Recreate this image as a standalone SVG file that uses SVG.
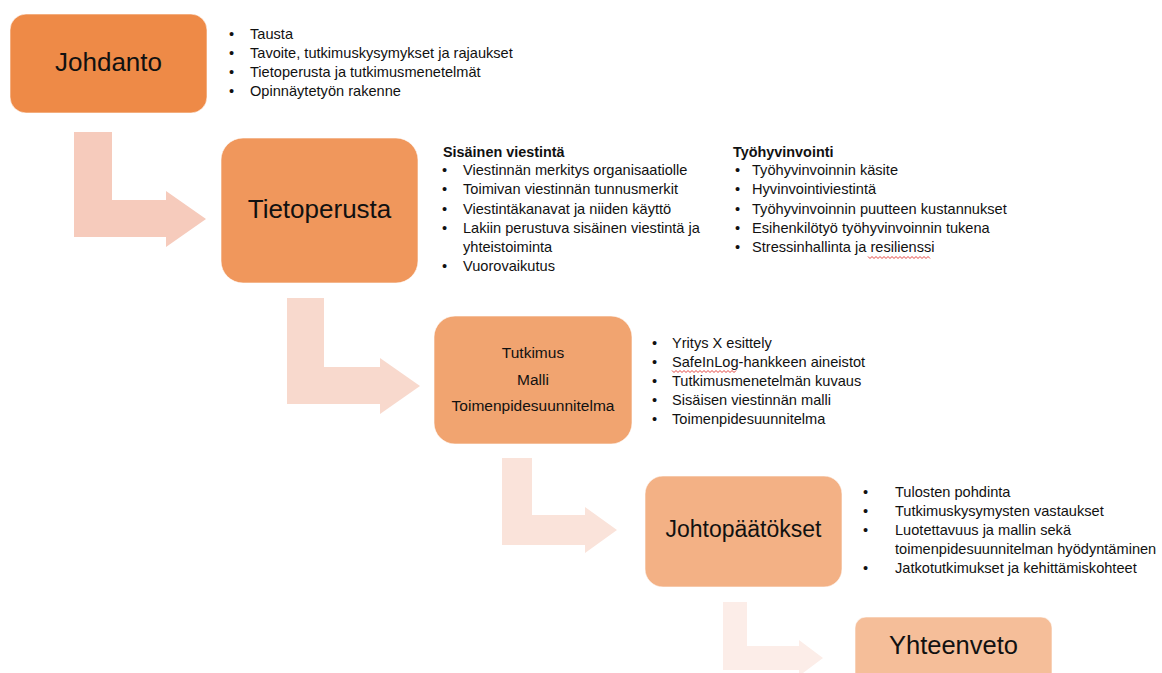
<svg xmlns="http://www.w3.org/2000/svg" width="1162" height="673" viewBox="0 0 1162 673">
<style>
  text { font-family: "Liberation Sans", Arial, sans-serif; fill: #111; }
  .box { stroke: #ffffff; stroke-opacity: 0.6; stroke-width: 1; }
  .title { text-anchor: middle; }
  .li { font-size: 14.6px; }
  .hd { font-size: 14.4px; font-weight: bold; }
  .wavy { fill: none; stroke: #e0302a; stroke-width: 0.9; }
</style>
<rect width="1162" height="673" fill="#ffffff"/>
<g id="connectors">
  <path d="M74,132 H112 V200 H166 V191 L206,219 L166,247 V237 H74 Z" fill="#F6CBBC"/>
  <path d="M287,298 H324 V367 H380 V358 L420,386 L380,414 V404 H287 Z" fill="#F8D9CD"/>
  <path d="M502,458 H532 V515 H585 V507 L617,530 L585,553 V545 H502 Z" fill="#FAE3DA"/>
  <path d="M723,602 H747 V646 H799 V640 L823,658 L799,676 V670 H723 Z" fill="#FCEDE8"/>
</g>
<g id="node-johdanto">
  <rect class="box" x="10" y="14" width="197" height="99" rx="16" fill="#EE8A47"/>
  <text class="title" x="108.5" y="71" font-size="26">Johdanto</text>
  <text class="li" x="229" y="38.5">•</text><text class="li" x="250" y="38.5">Tausta</text>
  <text class="li" x="229" y="57.5">•</text><text class="li" x="250" y="57.5">Tavoite, tutkimuskysymykset ja rajaukset</text>
  <text class="li" x="229" y="76.5">•</text><text class="li" x="250" y="76.5">Tietoperusta ja tutkimusmenetelmät</text>
  <text class="li" x="229" y="95.5">•</text><text class="li" x="250" y="95.5">Opinnäytetyön rakenne</text>
</g>
<g id="node-tietoperusta">
  <rect class="box" x="221" y="138" width="197" height="145" rx="22" fill="#F0975C"/>
  <text class="title" x="319.5" y="218" font-size="26">Tietoperusta</text>
  <text class="hd" x="443" y="156.5">Sisäinen viestintä</text>
  <text class="li" x="442" y="174.5">•</text><text class="li" x="463" y="174.5">Viestinnän merkitys organisaatiolle</text>
  <text class="li" x="442" y="193.5">•</text><text class="li" x="463" y="193.5">Toimivan viestinnän tunnusmerkit</text>
  <text class="li" x="442" y="213.5">•</text><text class="li" x="463" y="213.5">Viestintäkanavat ja niiden käyttö</text>
  <text class="li" x="442" y="232.5">•</text><text class="li" x="463" y="232.5">Lakiin perustuva sisäinen viestintä ja</text>
  <text class="li" x="463" y="251.5">yhteistoiminta</text>
  <text class="li" x="442" y="270.5">•</text><text class="li" x="463" y="270.5">Vuorovaikutus</text>
  <text class="hd" x="733" y="156.5">Työhyvinvointi</text>
  <text class="li" x="735" y="174.5">•</text><text class="li" x="752" y="174.5">Työhyvinvoinnin käsite</text>
  <text class="li" x="735" y="193.5">•</text><text class="li" x="752" y="193.5">Hyvinvointiviestintä</text>
  <text class="li" x="735" y="213.5">•</text><text class="li" x="752" y="213.5">Työhyvinvoinnin puutteen kustannukset</text>
  <text class="li" x="735" y="232.5">•</text><text class="li" x="752" y="232.5">Esihenkilötyö työhyvinvoinnin tukena</text>
  <text class="li" x="735" y="251.5">•</text><text class="li" x="752" y="251.5">Stressinhallinta ja resilienssi</text>
  <path class="wavy" d="M868,256.5 l2,2 l2,-2 l2,2 l2,-2 l2,2 l2,-2 l2,2 l2,-2 l2,2 l2,-2 l2,2 l2,-2 l2,2 l2,-2 l2,2 l2,-2 l2,2 l2,-2 l2,2 l2,-2 l2,2 l2,-2 l2,2 l2,-2 l2,2 l2,-2 l2,2 l2,-2 l2,2 l2,-2 l2,2"/>
</g>
<g id="node-tutkimus">
  <rect class="box" x="434" y="316" width="198" height="128" rx="21" fill="#F1A470"/>
  <text class="title" x="533" y="358" font-size="15.5">Tutkimus</text>
  <text class="title" x="533" y="384.5" font-size="15.5">Malli</text>
  <text class="title" x="533" y="411" font-size="15.5">Toimenpidesuunnitelma</text>
  <text class="li" x="652" y="347.5">•</text><text class="li" x="672" y="347.5">Yritys X esittely</text>
  <text class="li" x="652" y="366.5">•</text><text class="li" x="672" y="366.5">SafeInLog-hankkeen aineistot</text>
  <path class="wavy" d="M672,370.5 l2,2 l2,-2 l2,2 l2,-2 l2,2 l2,-2 l2,2 l2,-2 l2,2 l2,-2 l2,2 l2,-2 l2,2 l2,-2 l2,2 l2,-2 l2,2 l2,-2 l2,2 l2,-2 l2,2 l2,-2 l2,2 l2,-2 l2,2 l2,-2 l2,2 l2,-2 l2,2 l2,-2 l2,2 l2,-2"/>
  <text class="li" x="652" y="385.5">•</text><text class="li" x="672" y="385.5">Tutkimusmenetelmän kuvaus</text>
  <text class="li" x="652" y="404.5">•</text><text class="li" x="672" y="404.5">Sisäisen viestinnän malli</text>
  <text class="li" x="652" y="423.5">•</text><text class="li" x="672" y="423.5">Toimenpidesuunnitelma</text>
</g>
<g id="node-johtopaatokset">
  <rect class="box" x="645" y="476" width="197" height="111" rx="18" fill="#F3B185"/>
  <text class="title" x="743.5" y="537" font-size="23">Johtopäätökset</text>
  <text class="li" x="863" y="496.5">•</text><text class="li" x="895" y="496.5">Tulosten pohdinta</text>
  <text class="li" x="863" y="515.5">•</text><text class="li" x="895" y="515.5">Tutkimuskysymysten vastaukset</text>
  <text class="li" x="863" y="534.5">•</text><text class="li" x="895" y="534.5">Luotettavuus ja mallin sekä</text>
  <text class="li" x="895" y="553.5">toimenpidesuunnitelman hyödyntäminen</text>
  <text class="li" x="863" y="572.5">•</text><text class="li" x="895" y="572.5">Jatkotutkimukset ja kehittämiskohteet</text>
</g>
<g id="node-yhteenveto">
  <rect class="box" x="855" y="617" width="197" height="80" rx="11" fill="#F5BE99"/>
  <text class="title" x="953.5" y="654" font-size="25.5">Yhteenveto</text>
</g>
</svg>
